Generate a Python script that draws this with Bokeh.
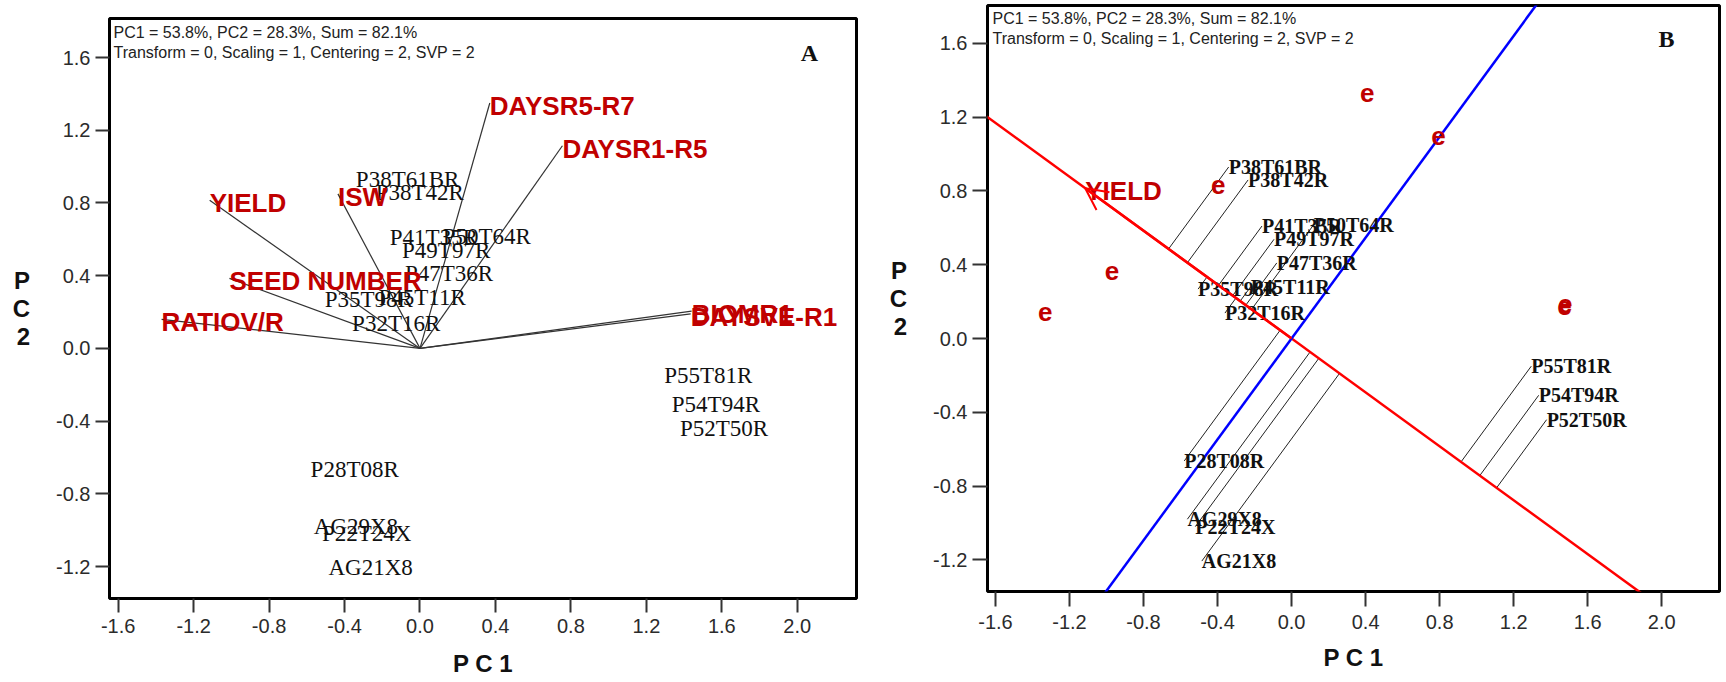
import numpy as np
from bokeh.plotting import figure
from bokeh.layouts import row
from bokeh.models import (FixedTicker, PrintfTickFormatter, ColumnDataSource,
                          Arrow, OpenHead, Range1d)
from bokeh.embed import file_html
from bokeh.resources import INLINE
from bokeh.core.properties import value

# ---------------- data ----------------
x_ticks = [-1.6, -1.2, -0.8, -0.4, 0.0, 0.4, 0.8, 1.2, 1.6, 2.0]
y_ticks = [-1.2, -0.8, -0.4, 0.0, 0.4, 0.8, 1.2, 1.6]

info_lines = ["PC1 = 53.8%, PC2 = 28.3%, Sum = 82.1%",
              "Transform = 0, Scaling = 1, Centering = 2, SVP = 2"]

trait_names = ["YIELD", "ISW", "DAYSR5-R7", "DAYSR1-R5", "SEED NUMBER",
               "RATIOV/R", "DAYSVE-R1", "BIOMR1"]
trait_pc1 = [-1.115, -0.435, 0.37, 0.755, -1.01, -1.37, 1.435, 1.44]
trait_pc2 = [0.815, 0.85, 1.35, 1.115, 0.385, 0.16, 0.19, 0.205]

geno_names = ["P38T61BR", "P38T42R", "P41T35R", "P50T64R", "P49T97R",
              "P47T36R", "P45T11R", "P35T98R", "P32T16R", "P55T81R",
              "P54T94R", "P52T50R", "P28T08R", "AG29X8", "P22T24X", "AG21X8"]
geno_pc1 = [-0.34, -0.235, -0.16, 0.12, -0.095, -0.08, -0.22, -0.505, -0.36,
            1.295, 1.335, 1.378, -0.58, -0.563, -0.52, -0.485]
geno_pc2 = [0.93, 0.86, 0.61, 0.618, 0.538, 0.41, 0.282, 0.268, 0.138,
            -0.15, -0.308, -0.44, -0.664, -0.98, -1.02, -1.207]

focus_trait = "YIELD"

RED = "#C00000"
SANS = "Liberation Sans"
SERIF = "Liberation Serif"


def style(p, tick_out, x_major_standoff, x_label_standoff):
    p.outline_line_color = "black"
    p.outline_line_width = 3
    p.grid.visible = False
    p.background_fill_color = "white"
    p.border_fill_color = "white"
    p.xaxis.ticker = FixedTicker(ticks=x_ticks)
    p.yaxis.ticker = FixedTicker(ticks=y_ticks)
    for ax in (p.xaxis[0], p.yaxis[0]):
        ax.formatter = PrintfTickFormatter(format="%.1f")
        ax.axis_line_color = None
        ax.major_tick_line_color = "#333333"
        ax.major_tick_line_width = 2
        ax.major_tick_out = tick_out
        ax.major_tick_in = 0
        ax.minor_tick_line_color = None
        ax.major_label_text_font = SANS
        ax.major_label_text_font_size = "20px"
        ax.major_label_text_color = "#2b2b2b"
        ax.axis_label_text_font = SANS
        ax.axis_label_text_font_style = "bold"
        ax.axis_label_text_font_size = "24px"
        ax.axis_label_text_color = "#111111"
    p.xaxis[0].axis_label = "P C 1"
    p.xaxis[0].major_label_standoff = x_major_standoff
    p.xaxis[0].axis_label_standoff = x_label_standoff
    p.yaxis[0].axis_label = "P\nC\n2"
    p.yaxis[0].axis_label_orientation = "horizontal"
    p.yaxis[0].axis_label_text_line_height = 1.03
    p.yaxis[0].major_label_standoff = 5
    p.yaxis[0].axis_label_standoff = 23


def info_text(p, xr, yr, offs, xoff):
    for line, off in zip(info_lines, offs):
        p.text(x=[xr.start], y=[yr.end], text=[line], x_offset=xoff, y_offset=off,
               text_font=value(SANS), text_font_size=value("16px"),
               text_color="#222222", text_align="left", text_baseline="middle")


# ---------------- panel A ----------------
xrA = Range1d(-1.646, 2.314)
yrA = Range1d(-1.376, 1.815)
pA = figure(title=None, frame_width=747, frame_height=580, x_range=xrA, y_range=yrA,
            min_border_left=109, min_border_right=10, min_border_top=18,
            min_border_bottom=84, toolbar_location=None, output_backend="svg")
style(pA, 14, 6, 14)

tsrc = ColumnDataSource(dict(x0=[0.0] * len(trait_names), y0=[0.0] * len(trait_names),
                             pc1=trait_pc1, pc2=trait_pc2, name=trait_names))
gsrc = ColumnDataSource(dict(pc1=geno_pc1, pc2=geno_pc2, name=geno_names))

pA.segment(x0="x0", y0="y0", x1="pc1", y1="pc2", source=tsrc,
           line_color="#333333", line_width=1.2)
pA.text(x="pc1", y="pc2", text="name", source=gsrc,
        text_font=value(SERIF), text_font_size=value("23px"),
        text_color="#111111", text_align="left", text_baseline="middle")
pA.text(x="pc1", y="pc2", text="name", source=tsrc, y_offset=3,
        text_font=value(SANS), text_font_size=value("26px"),
        text_font_style="bold", text_color=RED,
        text_align="left", text_baseline="middle")
info_text(pA, xrA, yrA, [13.5, 34], 4)
pA.text(x=[xrA.end], y=[yrA.end], text=["A"], x_offset=-47, y_offset=34,
        text_font=value(SERIF), text_font_size=value("24px"),
        text_font_style="bold", text_color="#111111",
        text_align="center", text_baseline="middle")

# ---------------- panel B ----------------
xrB = Range1d(-1.643, 2.312)
yrB = Range1d(-1.372, 1.806)
pB = figure(title=None, frame_width=732, frame_height=586, x_range=xrB, y_range=yrB,
            min_border_left=121, min_border_right=5, min_border_top=18,
            min_border_bottom=84, toolbar_location=None, output_backend="svg",
            margin=(-13, 0, 0, 0))
style(pB, 15, 8, 12)

fi = trait_names.index(focus_trait)
fx, fy = trait_pc1[fi], trait_pc2[fi]
u = np.array([fx, fy]) / np.hypot(fx, fy)
ext = 5.0
gx = np.array(geno_pc1)
gy = np.array(geno_pc2)
proj = gx * u[0] + gy * u[1]
pB.segment(x0=gx, y0=gy, x1=proj * u[0], y1=proj * u[1],
           line_color="#222222", line_width=1)
# ATC abscissa (through origin and focus trait) and ordinate (perpendicular)
pB.line(x=[-ext * u[0], ext * u[0]], y=[-ext * u[1], ext * u[1]],
        line_color="#FF0000", line_width=2.5)
pB.line(x=[-ext * u[1], ext * u[1]], y=[ext * u[0], -ext * u[0]],
        line_color="#0000FF", line_width=2.5)
pB.add_layout(Arrow(x_start=0, y_start=0, x_end=fx, y_end=fy,
                    line_color="#FF0000", line_width=2.5,
                    end=OpenHead(size=22, line_color="#FF0000", line_width=2)))

others = [i for i in range(len(trait_names)) if i != fi]
esrc = ColumnDataSource(dict(pc1=[trait_pc1[i] for i in others],
                             pc2=[trait_pc2[i] for i in others],
                             e=["e"] * len(others)))
pB.text(x="pc1", y="pc2", text="e", source=esrc, y_offset=3,
        text_font=value(SANS), text_font_size=value("26px"),
        text_font_style="bold", text_color=RED,
        text_align="left", text_baseline="middle")
pB.text(x=[fx], y=[fy], text=[focus_trait], y_offset=3,
        text_font=value(SANS), text_font_size=value("26px"),
        text_font_style="bold", text_color=RED,
        text_align="left", text_baseline="middle")
pB.text(x="pc1", y="pc2", text="name", source=gsrc,
        text_font=value(SERIF), text_font_size=value("20px"),
        text_font_style="bold", text_color="#111111",
        text_align="left", text_baseline="middle")
info_text(pB, xrB, yrB, [12.7, 33.2], 5)
pB.text(x=[xrB.end], y=[yrB.end], text=["B"], x_offset=-53, y_offset=33,
        text_font=value(SERIF), text_font_size=value("24px"),
        text_font_style="bold", text_color="#111111",
        text_align="center", text_baseline="middle")

layout = row(pA, pB)
open("out.html", "w").write(file_html(layout, INLINE))
